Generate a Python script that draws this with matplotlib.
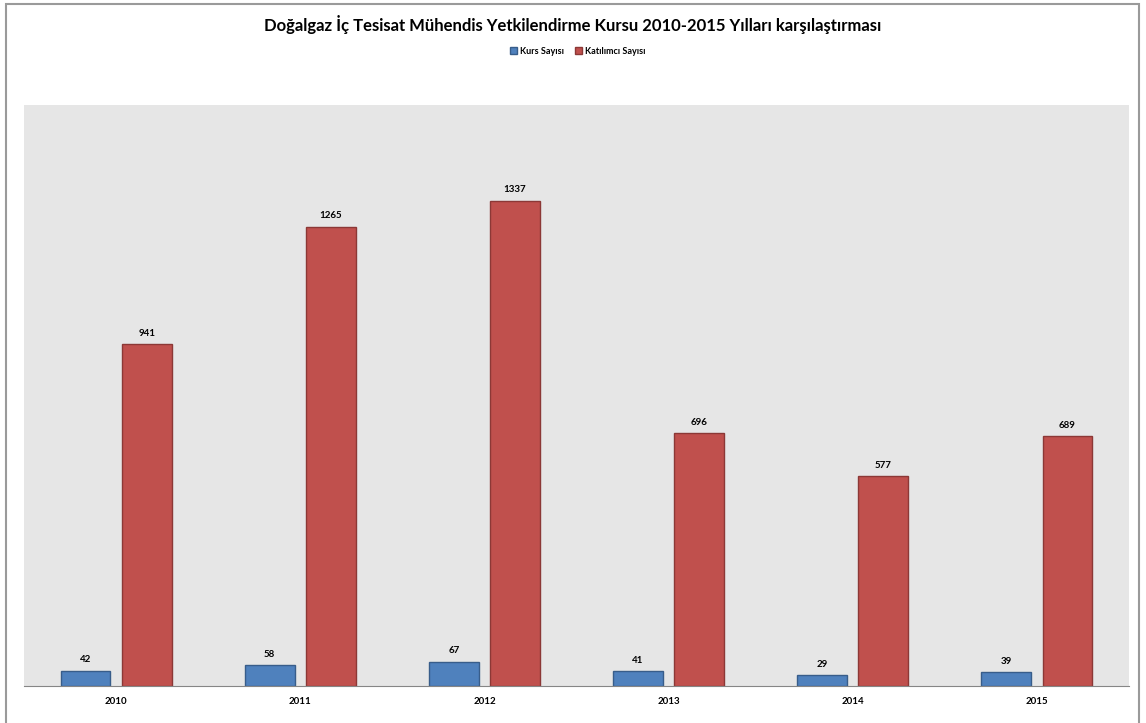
import numpy as np
import matplotlib
matplotlib.use("Agg")
import matplotlib.pyplot as plt
from matplotlib.patches import Rectangle, Patch

# veriler
years = ["2010", "2011", "2012", "2013", "2014", "2015"]
kurs_sayisi = [42, 58, 67, 41, 29, 39]
katilimci_sayisi = [941, 1265, 1337, 696, 577, 689]

BLUE, BLUE_EDGE = "#4F81BD", "#385D8A"
RED, RED_EDGE = "#C0504D", "#8C3836"

plt.rcParams["font.family"] = ["Lato", "DejaVu Sans"]

fig = plt.figure(figsize=(11.46, 7.23), dpi=100)
fig.patch.set_facecolor("white")

# dis cerceve
fig.add_artist(Rectangle((6 / 1146, -0.01), 1133 / 1146, 1 - 4 / 723 + 0.01,
                         transform=fig.transFigure, fill=False,
                         edgecolor="#9A9A9A", linewidth=1.5))

ax = fig.add_axes([24 / 1146, 37 / 723, 1105 / 1146, 581 / 723])
ax.set_facecolor("#E6E6E6")

x = np.arange(len(years))
w = 0.27
off = 0.166
b1 = ax.bar(x - off, kurs_sayisi, w, color=BLUE, edgecolor=BLUE_EDGE, linewidth=1)
b2 = ax.bar(x + off, katilimci_sayisi, w, color=RED, edgecolor=RED_EDGE, linewidth=1)

for bars, vals in ((b1, kurs_sayisi), (b2, katilimci_sayisi)):
    for b, v in zip(bars, vals):
        ax.annotate(str(v), (b.get_x() + b.get_width() / 2, v),
                    xytext=(0, 4.5), textcoords="offset points",
                    ha="center", va="bottom", fontsize=7, fontweight="bold")

ax.set_xlim(-0.5, len(years) - 0.5)
ax.set_ylim(0, 1600)
ax.set_xticks(x)
ax.set_xticklabels(years, fontsize=7, fontweight="bold")
ax.tick_params(axis="x", length=0, pad=8)
ax.set_yticks([])
for s in ("top", "left", "right"):
    ax.spines[s].set_visible(False)
ax.spines["bottom"].set_color("#868686")

fig.text(0.5, 0.966, "Doğalgaz İç Tesisat Mühendis Yetkilendirme Kursu 2010-2015 Yılları karşılaştırması",
         ha="center", va="center", fontsize=12, fontweight="bold")

handles = [Patch(facecolor=BLUE, edgecolor=BLUE_EDGE, label="Kurs Sayısı"),
           Patch(facecolor=RED, edgecolor=RED_EDGE, label="Katılımcı Sayısı")]
fig.legend(handles=handles, loc="center", bbox_to_anchor=(0.504, 0.929), ncol=2,
           frameon=False, prop={"size": 6.5, "weight": "bold"},
           handlelength=0.8, handleheight=0.8, handletextpad=0.3, columnspacing=1.2)

fig.savefig("out.png", dpi=100)
